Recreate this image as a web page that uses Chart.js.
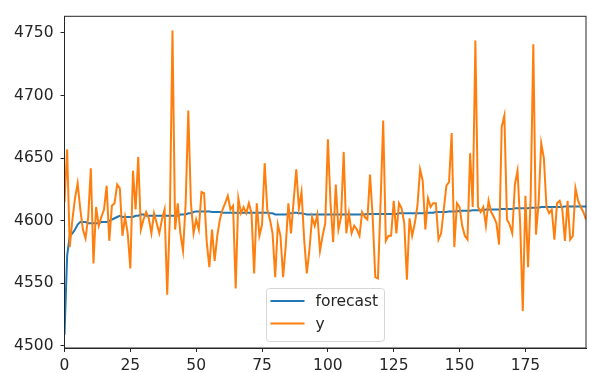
<!DOCTYPE html>
<html>
<head>
<meta charset="utf-8">
<script src="https://cdn.jsdelivr.net/npm/chart.js@4"></script>
<style>
  body { margin: 0; background: #fff; }
  canvas { display: block; }
</style>
</head>
<body>
<canvas id="myChart" width="589" height="373"></canvas>
<script>
// values, index 0..198
let yValues = [
  4615, 4657, 4579, 4601, 4618, 4630, 4609, 4593, 4586, 4603,
  4642, 4566, 4611, 4596, 4603, 4609, 4628, 4584, 4612, 4614,
  4629, 4626, 4588, 4603, 4590, 4562, 4640, 4609, 4651, 4593,
  4601, 4607, 4602, 4590, 4606, 4598, 4590, 4601, 4609, 4541,
  4603, 4752, 4593, 4614, 4590, 4576, 4614, 4688, 4614, 4590,
  4601, 4593, 4623, 4622, 4583, 4563, 4593, 4568, 4588, 4601,
  4609, 4614, 4620, 4609, 4612, 4546, 4618, 4606, 4611, 4606,
  4614, 4606, 4558, 4614, 4588, 4597, 4646, 4609, 4601, 4590,
  4555, 4597, 4588, 4555, 4580, 4614, 4590, 4616, 4641, 4610,
  4623, 4585, 4558, 4577, 4603, 4596, 4605, 4576, 4588, 4598,
  4665, 4614, 4583, 4629, 4593, 4603, 4655, 4590, 4606, 4590,
  4596, 4593, 4588, 4607, 4603, 4601, 4637, 4603, 4555, 4554,
  4614, 4680, 4584, 4588, 4588, 4616, 4590, 4614, 4610, 4598,
  4553, 4602, 4588, 4598, 4612, 4641, 4632, 4593, 4618, 4611,
  4614, 4614, 4585, 4590, 4609, 4628, 4631, 4670, 4579, 4614,
  4611, 4596, 4588, 4585, 4654, 4611, 4744, 4611, 4607, 4611,
  4596, 4616, 4607, 4603, 4598, 4581, 4675, 4684, 4601, 4597,
  4590, 4629, 4640, 4598, 4528, 4620, 4563, 4620, 4741, 4589,
  4614, 4662, 4650, 4611, 4606, 4609, 4585, 4614, 4616, 4609,
  4584, 4616, 4585, 4588, 4626, 4616, 4611, 4607, 4601
];

let forecastValues = [
  4509, 4572, 4588, 4590, 4593, 4597, 4599, 4599, 4599, 4598,
  4598, 4598, 4598, 4598, 4599, 4599, 4599, 4600, 4601, 4602,
  4603, 4604, 4603, 4603, 4603, 4603, 4603, 4604, 4604, 4605,
  4605, 4604, 4604, 4604, 4604, 4604, 4604, 4604, 4604, 4604,
  4604, 4604, 4604, 4604, 4605, 4605, 4605, 4606, 4606, 4607,
  4607.5, 4607.5, 4607.5, 4607.5, 4607.5, 4607.5, 4607, 4607, 4607, 4607,
  4606.5, 4606.5, 4606.5, 4606.5, 4606.5, 4606.5, 4606.5, 4606.5, 4606.5, 4606.5,
  4606.5, 4606.5, 4606.5, 4606.5, 4606.5, 4606.5, 4606.5, 4606.5, 4606, 4606,
  4605, 4605, 4605, 4605, 4605, 4605.5, 4606, 4606.5, 4606.5, 4606,
  4606, 4605.5, 4605, 4605, 4605, 4605, 4605, 4605, 4605, 4605,
  4605, 4605, 4605, 4605, 4605, 4605, 4605, 4605, 4605, 4605,
  4605, 4605, 4605, 4605, 4605, 4605.5, 4605.5, 4605.5, 4605.5, 4605.5,
  4605.5, 4605.5, 4605.5, 4605.5, 4605.5, 4605.5, 4605.5, 4606, 4606, 4606,
  4606, 4606, 4606, 4606, 4606, 4606, 4606, 4606.5, 4606.5, 4606.5,
  4606.5, 4607, 4607, 4607, 4607, 4607, 4607.5, 4607.5, 4607.5, 4607.5,
  4608, 4608, 4608, 4608, 4608, 4608.5, 4608.5, 4608.5, 4608.5, 4608.5,
  4609, 4609, 4609, 4609, 4609, 4609, 4609.5, 4609.5, 4609.5, 4609.5,
  4609.5, 4610, 4610, 4610, 4610, 4610, 4610, 4610.5, 4610.5, 4610.5,
  4610.5, 4611, 4611, 4611, 4611, 4611, 4611, 4611, 4611, 4611,
  4611.5, 4611.5, 4611.5, 4611.5, 4611.5, 4611.5, 4611.5, 4611.5, 4611.5
];

let xTicks = [0, 25, 50, 75, 100, 125, 150, 175];
let yTicks = [4500, 4550, 4600, 4650, 4700, 4750];
let seriesNames = ['forecast', 'y'];

let blue = '#1f77b4';
let orange = '#ff7f0e';
let ink = '#262626';
let font = { family: 'DejaVu Sans', size: 15.5 };

function toPoints(arr) {
  return arr.map((v, i) => ({ x: i, y: v }));
}

// matplotlib style frame on all four sides
let framePlugin = {
  id: 'frame',
  afterDraw(chart) {
    let a = chart.chartArea;
    let ctx = chart.ctx;
    ctx.save();
    ctx.strokeStyle = ink;
    ctx.lineWidth = 1;
    ctx.strokeRect(a.left, a.top, a.right - a.left, a.bottom - a.top);
    ctx.restore();
  }
};

// legend box in "lower center" spot like the original
let legendPlugin = {
  id: 'boxLegend',
  afterDraw(chart) {
    let a = chart.chartArea;
    let ctx = chart.ctx;
    let w = 118, h = 53;
    let left = Math.round((a.left + a.right) / 2 - w / 2) + 0.5;
    let top = Math.round(a.bottom - 7 - h) + 0.5;
    ctx.save();
    ctx.beginPath();
    ctx.roundRect(left, top, w, h, 3);
    ctx.fillStyle = 'rgba(255,255,255,0.8)';
    ctx.fill();
    ctx.strokeStyle = '#d6d6d6';
    ctx.lineWidth = 1;
    ctx.stroke();
    let colors = [blue, orange];
    let rows = [top + 12.5, top + 35];
    ctx.font = font.size + 'px ' + font.family;
    ctx.textBaseline = 'middle';
    for (let k = 0; k < seriesNames.length; k++) {
      ctx.strokeStyle = colors[k];
      ctx.lineWidth = 2;
      ctx.beginPath();
      ctx.moveTo(left + 4, rows[k]);
      ctx.lineTo(left + 38, rows[k]);
      ctx.stroke();
      ctx.fillStyle = ink;
      ctx.fillText(seriesNames[k], left + 49, rows[k] + 1);
    }
    ctx.restore();
  }
};

new Chart(document.getElementById('myChart'), {
  type: 'line',
  data: {
    datasets: [
      {
        label: seriesNames[0],
        data: toPoints(forecastValues),
        borderColor: blue,
        borderWidth: 2,
        pointRadius: 0,
        tension: 0,
        fill: false,
        order: 1
      },
      {
        label: seriesNames[1],
        data: toPoints(yValues),
        borderColor: orange,
        borderWidth: 2,
        pointRadius: 0,
        tension: 0,
        fill: false,
        order: 0
      }
    ]
  },
  options: {
    responsive: false,
    animation: false,
    layout: { padding: { top: 9, right: 3, left: 0, bottom: 0 } },
    plugins: {
      legend: { display: false },
      tooltip: { enabled: false }
    },
    scales: {
      x: {
        type: 'linear',
        min: 0,
        max: 198,
        afterBuildTicks(scale) { scale.ticks = xTicks.map(v => ({ value: v })); },
        afterFit(scale) { scale.height = 25; },
        ticks: {
          font: font,
          color: ink,
          padding: 5,
          maxRotation: 0,
          autoSkip: false,
          callback: v => String(v)
        },
        grid: { drawOnChartArea: false, drawTicks: true, tickLength: 4, color: ink },
        border: { display: true, color: ink, width: 1 }
      },
      y: {
        min: 4498.4,
        max: 4763.3,
        afterBuildTicks(scale) { scale.ticks = yTicks.map(v => ({ value: v })); },
        afterFit(scale) { scale.width = 64.5; },
        ticks: {
          font: font,
          color: ink,
          padding: 7,
          autoSkip: false,
          callback: v => String(v)
        },
        grid: { drawOnChartArea: false, drawTicks: true, tickLength: 4, color: ink },
        border: { display: true, color: ink, width: 1 }
      }
    }
  },
  plugins: [framePlugin, legendPlugin]
});
</script>
</body>
</html>
